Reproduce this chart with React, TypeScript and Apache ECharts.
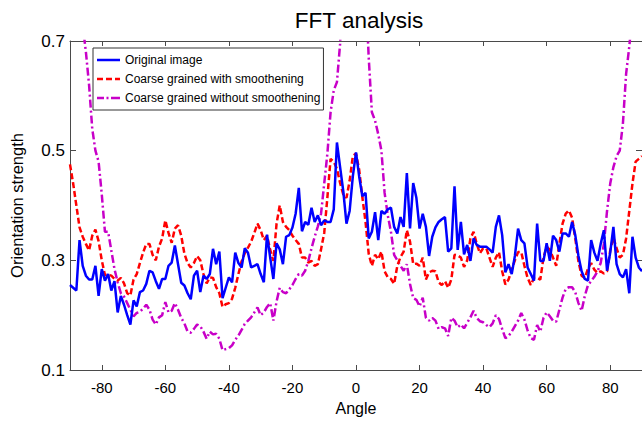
import React, { useEffect, useRef } from "react";
import * as echarts from "echarts";

const TITLE = "FFT analysis";
const X_NAME = "Angle";
const Y_NAME = "Orientation strength";
const X_TICKS = [-80, -60, -40, -20, 0, 20, 40, 60, 80];
const Y_TICKS = [0.1, 0.3, 0.5, 0.7];
const SERIES_NAMES = [
  "Original image",
  "Coarse grained with smoothening",
  "Coarse grained without smoothening",
];

// angles -90 .. 90, one per degree
const ANGLES: number[] = Array.from({ length: 181 }, (_, i) => i - 90);

const ORIGINAL = [
  0.255, 0.25, 0.245, 0.337, 0.29, 0.272, 0.265, 0.265, 0.29, 0.235,
  0.284, 0.263, 0.275, 0.245, 0.262, 0.205, 0.235, 0.219, 0.2, 0.183,
  0.227, 0.216, 0.242, 0.245, 0.257, 0.281, 0.278, 0.262, 0.248, 0.266,
  0.266, 0.29, 0.296, 0.327, 0.293, 0.259, 0.254, 0.24, 0.229, 0.272,
  0.281, 0.242, 0.272, 0.266, 0.275, 0.321, 0.293, 0.316, 0.231, 0.25,
  0.269, 0.26, 0.314, 0.295, 0.287, 0.322, 0.314, 0.287, 0.29, 0.293,
  0.275, 0.26, 0.347, 0.305, 0.266, 0.331, 0.32, 0.293, 0.343, 0.346,
  0.36, 0.385, 0.432, 0.353, 0.37, 0.365, 0.396, 0.37, 0.382, 0.364,
  0.373, 0.37, 0.37, 0.393, 0.515, 0.47, 0.426, 0.367, 0.39, 0.453,
  0.497, 0.453, 0.417, 0.423, 0.34, 0.352, 0.388, 0.337, 0.39, 0.385,
  0.393, 0.396, 0.361, 0.349, 0.379, 0.361, 0.459, 0.358, 0.441, 0.414,
  0.358, 0.385, 0.361, 0.308, 0.343, 0.36, 0.37, 0.375, 0.379, 0.316,
  0.322, 0.435, 0.319, 0.37, 0.311, 0.328, 0.299, 0.34, 0.328, 0.325,
  0.325, 0.325, 0.32, 0.314, 0.361, 0.382, 0.346, 0.278, 0.293, 0.275,
  0.308, 0.358, 0.337, 0.331, 0.287, 0.275, 0.263, 0.367, 0.299, 0.299,
  0.331, 0.299, 0.345, 0.337, 0.316, 0.349, 0.349, 0.343, 0.37, 0.346,
  0.308, 0.28, 0.266, 0.263, 0.337, 0.314, 0.299, 0.33, 0.355, 0.281,
  0.314, 0.361, 0.293, 0.275, 0.269, 0.284, 0.24, 0.343, 0.305, 0.287,
  0.28,
];

const SMOOTHED = [
  0.475, 0.44, 0.4, 0.36, 0.343, 0.33, 0.318, 0.345, 0.356, 0.335,
  0.3, 0.273, 0.274, 0.272, 0.266, 0.263, 0.268, 0.258, 0.24, 0.236,
  0.265, 0.275, 0.295, 0.314, 0.33, 0.33, 0.31, 0.3, 0.325, 0.34,
  0.373, 0.35, 0.332, 0.358, 0.364, 0.345, 0.312, 0.295, 0.287, 0.295,
  0.308, 0.3, 0.275, 0.258, 0.269, 0.268, 0.251, 0.24, 0.215, 0.22,
  0.222, 0.23, 0.25, 0.275, 0.298, 0.313, 0.323, 0.334, 0.35, 0.367,
  0.355, 0.337, 0.345, 0.319, 0.299, 0.367, 0.4, 0.37, 0.361, 0.355,
  0.345, 0.337, 0.33, 0.305, 0.305, 0.296, 0.299, 0.29, 0.293, 0.32,
  0.35, 0.415, 0.485, 0.48, 0.467, 0.441, 0.42, 0.414, 0.445, 0.49,
  0.495, 0.465, 0.415, 0.37, 0.312, 0.29, 0.31, 0.302, 0.316, 0.28,
  0.269, 0.266, 0.257, 0.29, 0.306, 0.316, 0.355, 0.334, 0.293, 0.294,
  0.29, 0.305, 0.265, 0.278, 0.281, 0.28, 0.26, 0.255, 0.262, 0.25,
  0.265, 0.31, 0.309, 0.305, 0.288, 0.3, 0.34, 0.352, 0.33, 0.313,
  0.322, 0.322, 0.305, 0.288, 0.305, 0.315, 0.28, 0.256, 0.265, 0.283,
  0.3, 0.315, 0.315, 0.29, 0.268, 0.255, 0.268, 0.268, 0.265, 0.305,
  0.325, 0.319, 0.305, 0.29, 0.33, 0.367, 0.385, 0.391, 0.378, 0.34,
  0.298, 0.272, 0.268, 0.285, 0.295, 0.283, 0.277, 0.28, 0.276, 0.28,
  0.318, 0.342, 0.322, 0.305, 0.31, 0.34, 0.39, 0.44, 0.48, 0.485,
  0.49,
];

const UNSMOOTHED = [
  1.0, 0.93, 0.86, 0.79, 0.73, 0.68, 0.62, 0.54, 0.5, 0.48,
  0.42, 0.352, 0.352, 0.318, 0.284, 0.26, 0.24, 0.234, 0.222, 0.21,
  0.198, 0.204, 0.206, 0.212, 0.219, 0.21, 0.192, 0.183, 0.196, 0.2,
  0.224, 0.205, 0.208, 0.222, 0.21, 0.195, 0.185, 0.17, 0.168, 0.175,
  0.183, 0.18, 0.17, 0.157, 0.17, 0.165, 0.166, 0.157, 0.136, 0.138,
  0.14, 0.145, 0.155, 0.163, 0.173, 0.184, 0.19, 0.196, 0.205, 0.214,
  0.2, 0.205, 0.215, 0.222, 0.19, 0.225, 0.25, 0.242, 0.24, 0.247,
  0.255, 0.266, 0.275, 0.272, 0.281, 0.299, 0.322, 0.343, 0.362, 0.385,
  0.44, 0.495, 0.57, 0.61, 0.625, 0.695, 0.82, 0.95, 1.05, 1.1,
  1.1, 1.05, 0.95, 0.8, 0.67, 0.57, 0.555, 0.53, 0.5, 0.423,
  0.382, 0.352, 0.31, 0.3, 0.29, 0.281, 0.293, 0.257, 0.231, 0.228,
  0.216, 0.232, 0.195, 0.19, 0.195, 0.19, 0.175, 0.178, 0.176, 0.162,
  0.195, 0.19, 0.178, 0.183, 0.176, 0.186, 0.196, 0.208, 0.195, 0.189,
  0.187, 0.182, 0.178, 0.185, 0.2, 0.193, 0.175, 0.158, 0.162, 0.17,
  0.18, 0.19, 0.204, 0.192, 0.172, 0.158, 0.155, 0.182, 0.17, 0.195,
  0.205, 0.198, 0.19, 0.188, 0.21, 0.232, 0.248, 0.251, 0.251, 0.242,
  0.222, 0.208, 0.235, 0.255, 0.262, 0.27, 0.28, 0.295, 0.33, 0.39,
  0.44, 0.47, 0.49, 0.5, 0.55, 0.64, 0.69, 0.75, 0.82, 0.9,
  1.0,
];

const FONT = "'Liberation Sans', Arial, Helvetica, sans-serif";
const AXIS_COLOR = "#4a4a4a";
const COLORS = ["#0000ff", "#ff0000", "#c800c8"];
const LEGEND_ICONS = [
  "path://M0,0h23v2.5h-23z",
  "path://M0,0h6v2.5h-6z M9,0h6v2.5h-6z M18,0h5v2.5h-5z",
  "path://M0,0h7v2.5h-7z M9.5,0h2v2.5h-2z M14,0h7v2.5h-7z M21,0h2v2.5h-2z",
];

export default function App() {
  const ref = useRef<HTMLDivElement>(null);

  useEffect(() => {
    if (!ref.current) return;
    const chart = echarts.init(ref.current, undefined, { renderer: "svg" });
    const pair = (vals: number[]) => ANGLES.map((a, i) => [a, vals[i]]);

    const baseX = {
      type: "value" as const,
      min: -90,
      max: 90,
      axisLine: { show: true, onZero: false, lineStyle: { color: AXIS_COLOR, width: 1 } },
      splitLine: { show: false },
      axisTick: {
        show: true,
        inside: true,
        length: 5,
        customValues: X_TICKS,
        lineStyle: { color: AXIS_COLOR },
      },
    };
    const baseY = {
      type: "value" as const,
      min: 0.1,
      max: 0.7,
      interval: 0.2,
      axisLine: { show: true, onZero: false, lineStyle: { color: AXIS_COLOR, width: 1 } },
      splitLine: { show: false },
      axisTick: {
        show: true,
        inside: true,
        length: 6,
        customValues: Y_TICKS,
        lineStyle: { color: AXIS_COLOR },
      },
    };

    chart.setOption({
      animation: false,
      backgroundColor: "#fff",
      textStyle: { fontFamily: FONT },
      title: {
        text: TITLE,
        left: 354,
        top: 4,
        textAlign: "center",
        textStyle: { fontFamily: FONT, fontSize: 22.5, fontWeight: "normal", color: "#000" },
      },
      grid: { left: 63, right: -4, top: 41, bottom: 41.5, containLabel: false },
      legend: {
        orient: "vertical",
        left: 93,
        top: 48,
        padding: [5, 3, 5, 4],
        itemGap: 5,
        itemWidth: 23,
        itemHeight: 2.5,
        backgroundColor: "#fff",
        borderColor: "#333",
        borderWidth: 1,
        borderRadius: 0,
        textStyle: { fontFamily: FONT, fontSize: 12, color: "#000", lineHeight: 14 },
        data: SERIES_NAMES.map((name, i) => ({
          name,
          icon: LEGEND_ICONS[i],
          itemStyle: { color: COLORS[i], borderWidth: 0 },
        })),
      },
      xAxis: [
        {
          ...baseX,
          position: "bottom",
          name: X_NAME,
          nameLocation: "middle",
          nameGap: 30,
          nameTextStyle: { fontFamily: FONT, fontSize: 16, color: "#000" },
          axisLabel: {
            show: true,
            margin: 10,
            customValues: X_TICKS,
            fontFamily: FONT,
            fontSize: 15,
            color: "#000",
          },
        },
        {
          ...baseX,
          position: "top",
          axisLabel: { show: false },
        },
      ],
      yAxis: [
        {
          ...baseY,
          position: "left",
          name: Y_NAME,
          nameLocation: "middle",
          nameGap: 45,
          nameTextStyle: { fontFamily: FONT, fontSize: 16.5, color: "#000" },
          axisLabel: {
            show: true,
            margin: 5,
            customValues: Y_TICKS,
            fontFamily: FONT,
            fontSize: 17,
            color: "#000",
            formatter: (v: number) => v.toFixed(1),
          },
        },
        {
          ...baseY,
          position: "right",
          axisLabel: { show: false },
        },
      ],
      series: [
        {
          name: SERIES_NAMES[0],
          type: "line",
          data: pair(ORIGINAL),
          symbol: "none",
          clip: true,
          z: 4,
          lineStyle: { color: COLORS[0], width: 2.5, type: "solid" },
          itemStyle: { color: COLORS[0] },
        },
        {
          name: SERIES_NAMES[1],
          type: "line",
          data: pair(SMOOTHED),
          symbol: "none",
          clip: true,
          z: 3,
          lineStyle: { color: COLORS[1], width: 2.5, type: [6, 3] },
          itemStyle: { color: COLORS[1] },
        },
        {
          name: SERIES_NAMES[2],
          type: "line",
          data: pair(UNSMOOTHED),
          symbol: "none",
          clip: true,
          z: 2,
          lineStyle: { color: COLORS[2], width: 2.5, type: [8, 3, 2, 3] },
          itemStyle: { color: COLORS[2] },
        },
      ],
    });

    return () => chart.dispose();
  }, []);

  return (
    <div
      ref={ref}
      style={{ position: "fixed", left: 0, top: 0, width: 642, height: 421, background: "#fff" }}
    />
  );
}
